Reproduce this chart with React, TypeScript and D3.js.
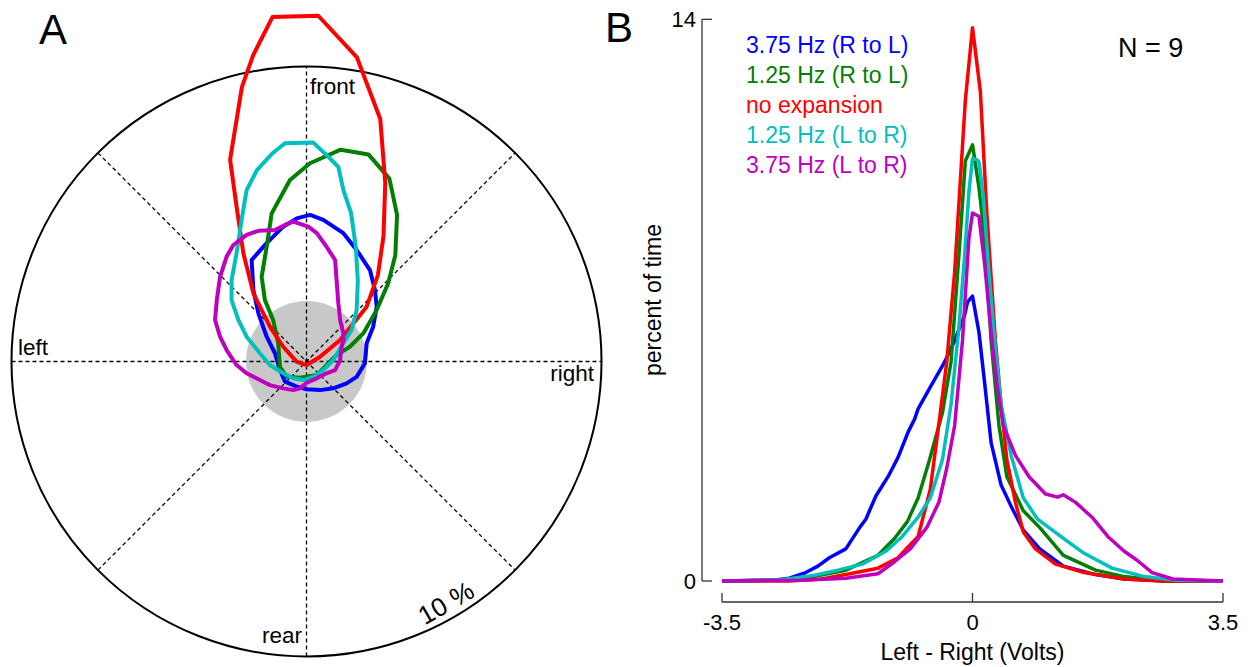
import React from "react";
import * as d3 from "d3";

// panel A: contours, [lateral %, forward %] (right +, front +)
const contourBlue = [[-0.33,4.85],[0.12,4.97],[0.57,4.80],[1.25,4.35],[1.70,3.78],[2.15,3.10],[2.32,2.42],[2.38,1.86],[2.26,1.18],[2.04,0.62],[1.98,-0.06],[1.70,-0.52],[1.36,-0.74],[0.91,-0.91],[0.46,-0.97],[0.01,-0.94],[-0.33,-0.85],[-0.73,-0.68],[-0.90,-0.29],[-1.07,0.28],[-1.35,0.84],[-1.63,1.63],[-1.80,2.42],[-1.86,3.44],[-1.35,4.01],[-0.79,4.57]];
const contourGreen = [[0.12,6.72],[1.16,7.18],[2.10,7.02],[2.81,6.20],[3.07,4.97],[3.01,3.60],[2.77,2.65],[2.38,1.75],[1.93,0.96],[1.47,0.50],[1.02,0.22],[0.35,-0.46],[-0.22,-0.55],[-0.67,-0.52],[-0.90,-0.18],[-0.96,0.62],[-1.13,1.41],[-1.41,2.08],[-1.52,2.87],[-1.35,3.89],[-1.18,5.02],[-0.56,6.15]];
const contourRed = [[-1.15,11.68],[0.40,11.72],[1.71,10.31],[2.50,8.22],[2.67,6.05],[2.61,4.25],[2.42,2.93],[2.04,1.86],[1.14,0.73],[0.46,0.16],[0.01,-0.12],[-0.33,-0.01],[-0.79,0.50],[-1.24,1.18],[-1.80,2.31],[-2.14,3.67],[-2.37,5.25],[-2.59,6.84],[-2.19,9.30],[-1.81,10.38]];
const contourCyan = [[-0.73,7.40],[0.23,7.42],[0.74,6.94],[1.08,6.60],[1.25,5.81],[1.51,5.04],[1.67,3.89],[1.74,2.73],[1.70,1.75],[1.53,1.07],[1.25,0.62],[0.91,0.05],[0.57,-0.29],[0.23,-0.52],[-0.11,-0.63],[-0.45,-0.57],[-0.79,-0.40],[-1.24,-0.12],[-1.58,0.28],[-2.03,0.84],[-2.31,1.41],[-2.54,2.08],[-2.54,2.76],[-2.37,3.67],[-2.20,4.80],[-2.03,5.81],[-1.68,6.49],[-1.15,7.06]];
const contourMagenta = [[-0.45,4.74],[0.06,4.57],[0.35,4.35],[0.68,3.89],[0.97,3.44],[1.02,2.76],[1.08,1.97],[1.14,1.41],[1.25,0.96],[1.25,0.73],[1.19,0.50],[1.14,0.05],[0.97,-0.29],[0.68,-0.40],[0.35,-0.57],[0.01,-0.72],[-0.22,-0.91],[-0.45,-0.97],[-0.79,-0.91],[-1.24,-0.80],[-1.58,-0.63],[-2.03,-0.40],[-2.37,-0.12],[-2.71,0.39],[-2.93,0.84],[-3.10,1.41],[-3.04,2.08],[-2.93,2.87],[-2.71,3.55],[-2.48,3.95],[-2.03,4.29],[-1.63,4.43],[-1.07,4.46],[-0.73,4.63]];

const outerRing = 10; // %
const grayRing = 2.05;
const spokeAngles = [0, 45, 90, 135];

// panel B: distributions, [volts, percent of time]
const distBlue = [[-3.5,0],[-2.79,0.02],[-2.56,0.07],[-2.33,0.21],[-2.16,0.37],[-2.0,0.58],[-1.77,0.80],[-1.57,1.35],[-1.49,1.54],[-1.35,2.12],[-1.18,2.60],[-1.04,3.08],[-0.90,3.71],[-0.81,4.03],[-0.76,4.29],[-0.59,4.83],[-0.42,5.36],[-0.36,5.57],[-0.25,5.99],[-0.11,6.63],[-0.07,6.95],[0,7.10],[0.09,6.20],[0.17,4.93],[0.26,3.45],[0.40,2.39],[0.54,1.86],[0.71,1.27],[0.94,0.80],[1.27,0.37],[1.72,0.16],[2.12,0.05],[2.68,0],[3.5,0]];
const distGreen = [[-3.5,0],[-2.67,0.03],[-2.22,0.11],[-1.77,0.27],[-1.32,0.64],[-1.09,1.06],[-0.91,1.48],[-0.76,2.07],[-0.60,3.02],[-0.42,4.19],[-0.30,5.46],[-0.19,8.11],[-0.10,10.47],[0,10.87],[0.09,9.81],[0.17,8.54],[0.26,5.99],[0.37,3.87],[0.48,2.60],[0.71,1.75],[0.94,1.33],[1.27,0.64],[1.72,0.27],[2.12,0.11],[2.68,0],[3.5,0]];
const distRed = [[-3.5,0],[-2.56,0],[-2.11,0.05],[-1.77,0.16],[-1.32,0.32],[-1.04,0.58],[-0.90,0.85],[-0.76,1.11],[-0.59,2.28],[-0.45,4.19],[-0.36,5.46],[-0.25,7.69],[-0.10,11.98],[0,13.79],[0.11,12.2],[0.20,9.17],[0.32,5.99],[0.40,4.40],[0.48,3.02],[0.60,1.96],[0.71,1.22],[0.88,0.80],[1.16,0.42],[1.56,0.21],[2.12,0.05],[2.68,0],[3.5,0]];
const distCyan = [[-3.5,0],[-2.67,0.03],[-2.22,0.14],[-1.88,0.27],[-1.54,0.42],[-1.21,0.74],[-0.98,1.11],[-0.76,1.59],[-0.59,2.07],[-0.42,3.02],[-0.30,4.40],[-0.19,6.31],[-0.11,8.11],[-0.05,9.70],[0,10.53],[0.06,10.50],[0.09,10.45],[0.15,9.60],[0.23,7.69],[0.32,5.78],[0.40,4.40],[0.54,3.13],[0.71,2.07],[0.91,1.54],[1.27,1.06],[1.56,0.69],[1.95,0.32],[2.40,0.11],[2.85,0.02],[3.5,0]];
const distMagenta = [[-3.5,0],[-2.39,0.02],[-1.77,0.07],[-1.32,0.18],[-1.09,0.48],[-0.87,0.80],[-0.64,1.33],[-0.47,1.96],[-0.36,2.81],[-0.25,3.87],[-0.14,5.99],[-0.05,8.54],[0,9.17],[0.09,9.09],[0.17,7.90],[0.26,6.20],[0.34,4.93],[0.43,3.87],[0.60,3.13],[0.79,2.60],[1.02,2.17],[1.19,2.09],[1.27,2.15],[1.44,1.96],[1.67,1.59],[1.89,1.11],[2.12,0.74],[2.29,0.53],[2.51,0.21],[2.80,0.05],[3.5,0]];

const conditions = ["3.75 Hz (R to L)", "1.25 Hz (R to L)", "no expansion", "1.25 Hz (L to R)", "3.75 Hz (L to R)"];
const colors = ["#0000ff", "#008000", "#ff0000", "#00bfbf", "#bf00bf"];
const contours = [contourBlue, contourGreen, contourRed, contourCyan, contourMagenta];
const dists = [distBlue, distGreen, distRed, distCyan, distMagenta];

const xTicks = [-3.5, 0, 3.5];
const yTicks = [0, 14];

const font = "'Liberation Sans', Arial, Helvetica, sans-serif";

export default function App() {
  // panel A geometry
  const cx = 306.5, cy = 361.5, R = 295;
  const ax = d3.scaleLinear().domain([-outerRing, outerRing]).range([cx - R, cx + R]);
  const ay = d3.scaleLinear().domain([-outerRing, outerRing]).range([cy + R, cy - R]);
  const contourLine = d3.line<number[]>()
    .x(d => ax(d[0]))
    .y(d => ay(d[1]))
    .curve(d3.curveLinearClosed);

  // panel B geometry
  const bx = d3.scaleLinear().domain([-3.5, 3.5]).range([722, 1223]);
  const by = d3.scaleLinear().domain([0, 14]).range([581, 19.3]);
  const distLine = d3.line<number[]>().x(d => bx(d[0])).y(d => by(d[1]));
  const xAxisY = 602;
  const yAxisX = 702;

  return (
    <svg width={1253} height={667} style={{ position: "absolute", left: 0, top: 0, background: "#fff" }}
      fontFamily={font}>
      {/* ---- panel A ---- */}
      <text x={39} y={44} fontSize={42}>A</text>
      <circle cx={ax(0)} cy={ay(0)} r={ax(grayRing) - ax(0)} fill="#c8c8c8" />
      {spokeAngles.map(a => {
        const rad = (a * Math.PI) / 180;
        const dx = Math.sin(rad) * outerRing, dy = Math.cos(rad) * outerRing;
        return (
          <line key={a} x1={ax(-dx)} y1={ay(-dy)} x2={ax(dx)} y2={ay(dy)}
            stroke="#000" strokeWidth={1.3} strokeDasharray="4,3" />
        );
      })}
      <circle cx={ax(0)} cy={ay(0)} r={ax(outerRing) - ax(0)} fill="none" stroke="#000" strokeWidth={2} />
      <text x={ax(0)} y={ay(0)} fontSize={12} textAnchor="middle" dy={5}>*</text>
      {contours.map((c, i) => (
        <path key={i} d={contourLine(c) || ""} fill="none" stroke={colors[i]} strokeWidth={4}
          strokeLinejoin="round" />
      ))}
      <text x={310} y={94} fontSize={22.5}>front</text>
      <text x={18} y={355} fontSize={22.5}>left</text>
      <text x={594} y={381} fontSize={22.5} textAnchor="end">right</text>
      <text x={302} y={643} fontSize={22.5} textAnchor="end">rear</text>
      <text x={446} y={603} fontSize={26} textAnchor="middle" dominantBaseline="central"
        transform="rotate(-30 446 603)">10 %</text>

      {/* ---- panel B ---- */}
      <text x={605} y={42} fontSize={42}>B</text>
      <line x1={yAxisX} y1={by(14)} x2={yAxisX} y2={by(0)} stroke="#333" strokeWidth={1.3} />
      {yTicks.map(t => (
        <g key={t}>
          <line x1={yAxisX} x2={yAxisX + 10} y1={by(t)} y2={by(t)} stroke="#333" strokeWidth={1.3} />
          <text x={yAxisX - 6} y={by(t)} dy={7.5} fontSize={22} textAnchor="end">{t}</text>
        </g>
      ))}
      <line x1={bx(-3.5)} x2={bx(3.5)} y1={xAxisY} y2={xAxisY} stroke="#333" strokeWidth={1.3} />
      {xTicks.map(t => (
        <g key={t}>
          <line x1={bx(t)} x2={bx(t)} y1={xAxisY} y2={xAxisY - 9} stroke="#333" strokeWidth={1.3} />
          <text x={bx(t)} y={630} fontSize={22} textAnchor="middle">{t}</text>
        </g>
      ))}
      <text x={bx(0)} y={660} fontSize={23} textAnchor="middle">Left - Right (Volts)</text>
      <text x={661} y={300} fontSize={23} textAnchor="middle" transform="rotate(-90 661 300)">percent of time</text>
      {dists.map((d, i) => (
        <path key={i} d={distLine(d) || ""} fill="none" stroke={colors[i]} strokeWidth={3.5}
          strokeLinejoin="round" />
      ))}
      {conditions.map((c, i) => (
        <text key={c} x={746} y={53 + i * 30} fontSize={23} fill={colors[i]}>{c}</text>
      ))}
      <text x={1118} y={57} fontSize={27}>N = 9</text>
    </svg>
  );
}
